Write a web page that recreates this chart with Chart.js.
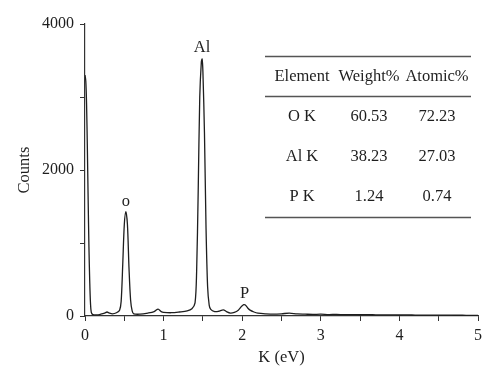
<!DOCTYPE html>
<html><head><meta charset="utf-8">
<script src="https://cdn.jsdelivr.net/npm/chart.js@4/dist/chart.umd.min.js"></script>
<style>html,body{margin:0;padding:0;background:#fff;}#wrap{width:500px;height:383px;position:relative;}</style>
</head><body><div id="wrap"><canvas id="c"></canvas></div>
<script>
// Spectrum (energy in keV, counts)
const energy = [0,0.01,0.02,0.03,0.04,0.05,0.06,0.07,0.08,0.1,0.15,0.2,0.25,0.28,0.31,0.35,0.4,0.44,0.46,0.48,0.5,0.52,0.54,0.56,0.58,0.6,0.62,0.7,0.8,0.88,0.93,0.97,1.0,1.1,1.2,1.3,1.36,1.4,1.42,1.44,1.46,1.48,1.49,1.5,1.52,1.54,1.56,1.58,1.6,1.65,1.7,1.76,1.8,1.85,1.9,1.95,1.99,2.02,2.04,2.07,2.1,2.15,2.2,2.3,2.4,2.5,2.6,2.7,2.8,2.9,3.0,3.1,3.2,3.3,3.4,3.5,3.6,3.7,3.8,3.9,4.0,4.1,4.2,4.3,4.4,4.5,4.6,4.7,4.8,4.9,5.0];
const counts = [3300,3220,2900,2300,1600,950,480,170,50,20,15,25,40,55,40,30,45,80,200,700,1250,1430,1250,650,220,70,30,25,40,60,95,60,50,45,55,70,100,180,600,1700,3000,3480,3520,3350,2500,1200,400,150,90,60,65,85,60,40,50,80,130,155,150,110,80,55,40,30,25,30,40,28,25,22,25,20,22,18,20,17,18,16,15,16,14,15,13,12,12,11,12,10,10,9,9];
const xTicks = [0,1,2,3,4,5];
const yTicks = [0,2000,4000];
// Peak annotations
const peakNames = ['o','Al','P'];
const peakX = [0.52,1.49,2.03];
const peakY = [1570,3680,300];
// Composition table
const tableHeader = ['Element','Weight%','Atomic%'];
const tableElements = ['O K','Al K','P K'];
const tableWeight = ['60.53','38.23','1.24'];
const tableAtomic = ['72.23','27.03','0.74'];

const FONT = "'Liberation Serif','Times New Roman',serif";
const INK = '#1e1e1e';

const annot = {
  id:'annot',
  afterDatasetsDraw(chart){
    const ctx = chart.ctx, xs = chart.scales.x, ys = chart.scales.y;
    ctx.save();
    ctx.fillStyle = INK;
    ctx.font = '16.5px ' + FONT;
    ctx.textAlign = 'center';
    ctx.textBaseline = 'middle';
    peakNames.forEach((n,i)=>{
      ctx.fillText(n, xs.getPixelForValue(peakX[i]), ys.getPixelForValue(peakY[i]));
    });
    // table
    const left = 265, right = 471;
    const colX = [302, 369, 437];
    const rowY = [117, 157, 197];
    ctx.strokeStyle = '#555';
    ctx.lineWidth = 1.4;
    [56, 96, 217].forEach(y=>{
      ctx.beginPath(); ctx.moveTo(left,y+0.5); ctx.lineTo(right,y+0.5); ctx.stroke();
    });
    ctx.font = '16.5px ' + FONT;
    tableHeader.forEach((t,i)=>ctx.fillText(t, colX[i], 77));
    tableElements.forEach((t,r)=>{
      ctx.fillText(t, colX[0], rowY[r]);
      ctx.fillText(tableWeight[r], colX[1], rowY[r]);
      ctx.fillText(tableAtomic[r], colX[2], rowY[r]);
    });
    ctx.restore();
  }
};

new Chart(document.getElementById('c'), {
  type:'line',
  data:{ datasets:[{
    data: energy.map((e,i)=>({x:e, y:counts[i]})),
    borderColor: INK, borderWidth: 1.3, pointRadius: 0, tension: 0.3, fill:false
  }]},
  options:{
    responsive:true, maintainAspectRatio:false, animation:false,
    layout:{padding:{left:0,right:22,top:24,bottom:0}},
    plugins:{legend:{display:false}, tooltip:{enabled:false}},
    scales:{
      x:{
        type:'linear', min:0, max:5,
        afterFit(s){ s.height = 67; },
        afterBuildTicks(s){ s.ticks = [0,0.5,1,1.5,2,2.5,3,3.5,4,4.5,5].map(v=>({value:v})); },
        ticks:{ color:INK, font:{family:FONT, size:16}, padding:5, maxRotation:0,
          callback:(v)=> xTicks.includes(v) ? String(v) : '' },
        grid:{ drawOnChartArea:false, tickLength:5, tickColor:'#333', tickWidth:1 },
        border:{ display:true, color:'#333', width:1.2 },
        title:{ display:true, text:'K (eV)', color:INK, font:{family:FONT, size:16.5}, padding:{top:0,bottom:15} }
      },
      y:{
        type:'linear', min:0, max:4000,
        afterFit(s){ s.width = 85; },
        afterBuildTicks(s){ s.ticks = [0,1000,2000,3000,4000].map(v=>({value:v})); },
        ticks:{ color:INK, font:{family:FONT, size:16}, padding:6,
          callback:(v)=> yTicks.includes(v) ? String(v) : '' },
        grid:{ drawOnChartArea:false, tickLength:5, tickColor:'#333', tickWidth:1 },
        border:{ display:true, color:'#333', width:1.2 },
        title:{ display:true, text:'Counts', color:INK, font:{family:FONT, size:16.5}, padding:{top:15,bottom:0} }
      }
    }
  },
  plugins:[annot]
});
</script></body></html>
